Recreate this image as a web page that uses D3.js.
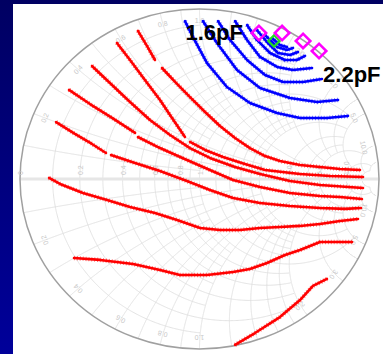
<!DOCTYPE html>
<html>
<head>
<meta charset="utf-8">
<script src="https://cdn.jsdelivr.net/npm/d3@7"></script>
<style>
  html, body { margin: 0; padding: 0; background: #000066; overflow: hidden; }
  svg { display: block; }
</style>
</head>
<body>
<div id="chart"></div>
<script>
// traces as reflection coefficient [re, im]; null marks a gap in the trace
var redTraces = [
  [[-0.343,0.871],[-0.292,0.782],[-0.248,0.700],null,[-0.209,0.653],[-0.136,0.571],[-0.053,0.482],[0.031,0.394],[0.114,0.312],[0.198,0.241],[0.281,0.182],[0.365,0.135],[0.448,0.106],[0.560,0.082],[0.671,0.071],[0.783,0.059],[0.894,0.053]],
  [[-0.460,0.800],[-0.387,0.700],[-0.304,0.582],[-0.220,0.465],[-0.153,0.359],[-0.081,0.247],null,[-0.053,0.218],[0.031,0.171],[0.131,0.129],[0.253,0.088],[0.365,0.053],[0.560,0.029],[0.727,0.018],[0.911,0.012]],
  [[-0.599,0.665],[-0.499,0.565],[-0.387,0.453],[-0.276,0.347],[-0.164,0.259],[-0.053,0.182],[0.058,0.124],[0.198,0.071],[0.337,0.029],[0.504,-0.012],[0.671,-0.035],[0.911,-0.053]],
  [[-0.727,0.524],[-0.610,0.441],[-0.487,0.359],[-0.359,0.271],null,[-0.343,0.247],[-0.220,0.182],[-0.070,0.112],[0.058,0.053],[0.187,-0.006],[0.337,-0.047],[0.504,-0.082],[0.671,-0.100],[0.783,-0.106],[0.905,-0.118]],
  [[-0.799,0.335],[-0.694,0.265],[-0.599,0.206],[-0.521,0.153],null,[-0.493,0.141],[-0.359,0.094],[-0.220,0.047],[-0.070,-0.012],[0.058,-0.065],[0.187,-0.112],[0.337,-0.141],[0.504,-0.159],[0.671,-0.171],[0.811,-0.176],[0.900,-0.171]],
  [[-0.838,0.006],[-0.777,-0.029],[-0.649,-0.082],[-0.515,-0.124],[-0.387,-0.165],[-0.248,-0.200],[-0.125,-0.241],[0.003,-0.288],[0.114,-0.300],[0.226,-0.300],[0.337,-0.288],[0.448,-0.282],[0.560,-0.276],[0.671,-0.265],[0.783,-0.247],[0.883,-0.235]],
  [[-0.699,-0.465],[-0.554,-0.476],[-0.370,-0.500],[-0.220,-0.535],[-0.109,-0.565],[0.042,-0.565],[0.187,-0.547],[0.281,-0.529],[0.376,-0.494],[0.476,-0.447],[0.560,-0.418],[0.616,-0.394],[0.671,-0.371],[0.850,-0.371]],
  [[0.198,-0.976],[0.309,-0.906],[0.448,-0.812],[0.560,-0.712],[0.632,-0.629],[0.710,-0.588]]
];

var blueTraces = [
  [[-0.081,0.929],[-0.036,0.835],[0.042,0.682],[0.153,0.541],[0.281,0.447],[0.432,0.388],[0.560,0.359],[0.710,0.359],[0.827,0.371]],
  [[0.019,0.929],[0.097,0.800],[0.209,0.641],[0.337,0.535],[0.504,0.476],[0.655,0.453],[0.772,0.465]],
  [[0.103,0.929],[0.170,0.818],[0.265,0.700],[0.365,0.612],[0.465,0.571],[0.577,0.571],[0.682,0.588]],
  [[0.198,0.929],[0.265,0.818],[0.337,0.718],[0.432,0.659],[0.521,0.641],[0.627,0.653]],
  [[0.265,0.906],[0.320,0.818],[0.393,0.741],[0.476,0.700],[0.543,0.700],[0.588,0.724]],
  [[0.320,0.876],[0.376,0.806],[0.437,0.741],[0.504,0.729],[0.549,0.747]],
  [[0.365,0.847],[0.432,0.776],[0.487,0.759],[0.521,0.771]],
  [[0.404,0.829],[0.448,0.788],[0.487,0.776]]
];

var capMarkers = [[0.331,0.859],[0.460,0.859],[0.577,0.812],[0.666,0.753]];
var optimum = [0.415,0.812];
var capLabels = ["1.6pF", "2.2pF"];

// smith grid: value and the span it is drawn over
var rGrid = [0.1,0.2,0.3,0.4,0.5,0.6,0.7,0.8,0.9,1,1.2,1.4,1.6,1.8,2,3,4,5,10,20];
var rSpan = [1,2,1,2,1,2,1,2,1,5,2,2,2,2,5,5,5,10,20,20];
var xGrid = [0.1,0.2,0.3,0.4,0.5,0.6,0.7,0.8,0.9,1,1.2,1.4,1.6,1.8,2,3,4,5,10,20];
var xSpan = [1,2,1,2,1,2,1,2,1,5,2,2,2,2,5,5,5,10,20,20];
var axisTicks = [0,0.2,0.4,0.6,0.8,1,2,3,5,10];
var rimTicks = [0.2,0.4,0.6,0.8,1,2,3,5,10];

var width = 383, height = 354;

var svg = d3.select("#chart").append("svg")
    .attr("width", width)
    .attr("height", height);

var defs = svg.append("defs");
var grad = defs.append("linearGradient").attr("id", "bg").attr("x1", 0).attr("y1", 0).attr("x2", 0).attr("y2", 1);
grad.append("stop").attr("offset", "0%").attr("stop-color", "#000062");
grad.append("stop").attr("offset", "100%").attr("stop-color", "#00009a");

svg.append("rect").attr("width", width).attr("height", height).attr("fill", "url(#bg)");
svg.append("rect").attr("x", 13).attr("y", 4).attr("width", width - 13).attr("height", height - 4).attr("fill", "#ffffff");

var x = d3.scaleLinear().domain([-1, 1]).range([20, 379]);
var y = d3.scaleLinear().domain([-1, 1]).range([349, 9]);

defs.append("clipPath").attr("id", "unit")
  .append("ellipse")
    .attr("cx", x(0)).attr("cy", y(0))
    .attr("rx", x(1) - x(0)).attr("ry", y(-1) - y(0));

function gamma(r, xx) {
  var den = (r + 1) * (r + 1) + xx * xx;
  return [(r * r + xx * xx - 1) / den, 2 * xx / den];
}

var toLine = d3.line()
    .defined(function(d) { return d !== null; })
    .x(function(d) { return x(d[0]); })
    .y(function(d) { return y(d[1]); })
    .curve(d3.curveLinear);

var smooth = d3.line()
    .x(function(d) { return x(d[0]); })
    .y(function(d) { return y(d[1]); });

var grid = svg.append("g").attr("clip-path", "url(#unit)")
    .attr("fill", "none").attr("stroke", "#e0e0e0").attr("stroke-width", 0.9);

// resistance circles
var angles = d3.range(-Math.PI / 2 + 0.002, Math.PI / 2, 0.004);
rGrid.forEach(function(r, i) {
  var lim = rSpan[i];
  var pts = angles.map(function(a) { return Math.tan(a); })
      .filter(function(t) { return Math.abs(t) <= lim; })
      .map(function(t) { return gamma(r, t); });
  grid.append("path").attr("d", smooth(pts));
});

// reactance arcs
var us = d3.range(0, 0.999, 0.002);
xGrid.forEach(function(xv, i) {
  var lim = xSpan[i];
  [xv, -xv].forEach(function(s) {
    var pts = us.map(function(u) { return u / (1 - u); })
        .filter(function(r) { return r <= lim; })
        .map(function(r) { return gamma(r, s); });
    grid.append("path").attr("d", smooth(pts));
  });
});

// real axis
svg.append("line")
    .attr("x1", x(-1)).attr("x2", x(1)).attr("y1", y(0)).attr("y2", y(0))
    .attr("stroke", "#e6e6e6").attr("stroke-width", 3);

svg.append("ellipse")
    .attr("cx", x(0)).attr("cy", y(0))
    .attr("rx", x(1) - x(0)).attr("ry", y(-1) - y(0))
    .attr("fill", "none").attr("stroke", "#a0a0a0").attr("stroke-width", 1.5);

// faint tick labels
var tickG = svg.append("g")
    .attr("font-family", "Liberation Sans, Arial, sans-serif")
    .attr("font-size", 7).attr("fill", "#c8c8c8");

tickG.selectAll(".axl")
  .data(axisTicks)
  .enter().append("text")
    .attr("class", "axl")
    .attr("transform", function(d) {
      var g = gamma(d, 0);
      return "translate(" + (x(g[0]) + 3) + "," + (y(0) - 4) + ") rotate(-90)";
    })
    .text(function(d) { return d === 0 ? "0" : d.toFixed(1); });

rimTicks.forEach(function(t) {
  [t, -t].forEach(function(s) {
    var g = gamma(0, s);
    var px = x(g[0] * 0.92), py = y(g[1] * 0.92);
    var ang = Math.atan2(y(g[1]) - y(0), x(g[0]) - x(0)) * 180 / Math.PI + 90;
    tickG.append("text")
      .attr("text-anchor", "middle")
      .attr("transform", "translate(" + px + "," + py + ") rotate(" + ang + ")")
      .text(t.toFixed(1));
  });
});

// measured traces
function drawTraces(data, color) {
  var g = svg.append("g").attr("fill", "none");
  g.selectAll(".base")
    .data(data)
    .enter().append("path")
      .attr("d", toLine)
      .attr("stroke", color)
      .attr("stroke-width", 2.6)
      .attr("stroke-linejoin", "round")
      .attr("stroke-linecap", "round");
  g.selectAll(".hair")
    .data(data)
    .enter().append("path")
      .attr("d", toLine)
      .attr("stroke", color)
      .attr("stroke-width", 4.4)
      .attr("stroke-dasharray", "0.9 2")
      .attr("stroke-opacity", 0.55);
}
drawTraces(redTraces, "#ff0000");
drawTraces(blueTraces, "#0000ff");

// square turned 45 degrees
var rhomb = d3.symbol().type(d3.symbolSquare);

svg.append("path")
    .attr("d", rhomb.size(64)())
    .attr("transform", "translate(" + x(optimum[0]) + "," + y(optimum[1]) + ") rotate(45)")
    .attr("fill", "none").attr("stroke", "#22dd22").attr("stroke-width", 2.2);

svg.selectAll(".cap")
  .data(capMarkers)
  .enter().append("path")
    .attr("d", rhomb.size(105)())
    .attr("transform", function(d) { return "translate(" + x(d[0]) + "," + y(d[1]) + ") rotate(45)"; })
    .attr("fill", "none").attr("stroke", "#ff00ff").attr("stroke-width", 2.6);

var first = capMarkers[0], last = capMarkers[capMarkers.length - 1];
svg.append("text")
    .attr("x", x(first[0]) - 16).attr("y", y(first[1]) + 7)
    .attr("text-anchor", "end")
    .attr("font-family", "Liberation Sans, Arial, sans-serif")
    .attr("font-weight", "bold").attr("font-size", 22)
    .attr("fill", "#000")
    .text(capLabels[0]);
svg.append("text")
    .attr("x", x(last[0]) + 4).attr("y", y(last[1]) + 31)
    .attr("font-family", "Liberation Sans, Arial, sans-serif")
    .attr("font-weight", "bold").attr("font-size", 22)
    .attr("fill", "#000")
    .text(capLabels[1]);
</script>
</body>
</html>
